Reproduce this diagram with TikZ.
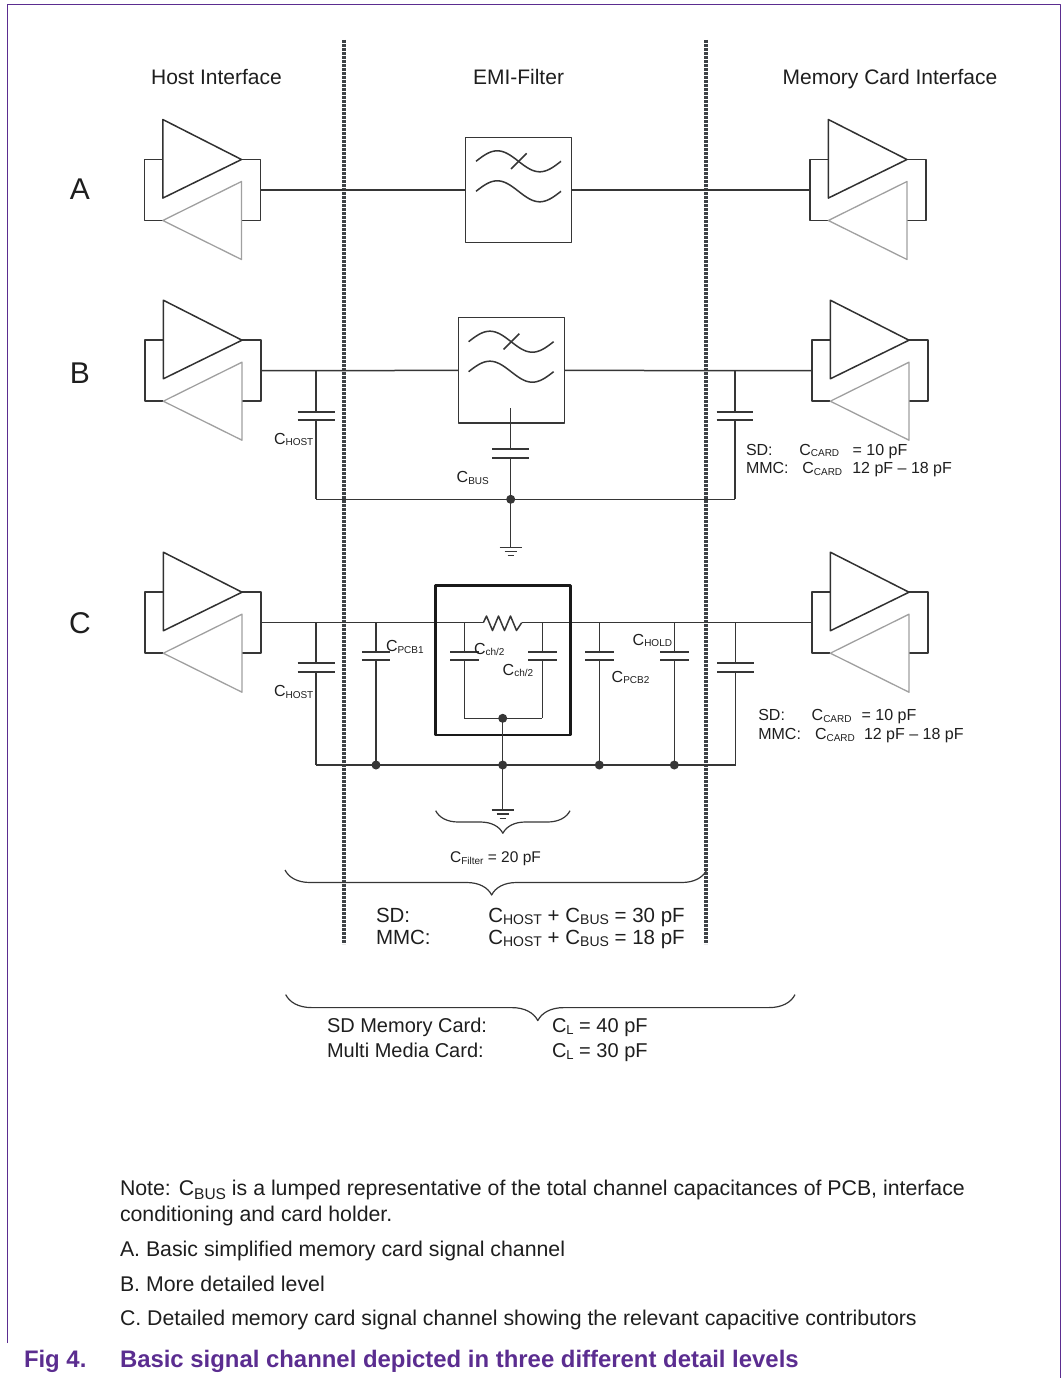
\documentclass[tikz,border=0pt]{standalone}
\usepackage{fontspec}
\setmainfont{Liberation Sans}
\usetikzlibrary{decorations.pathreplacing,calc}
\definecolor{wirec}{HTML}{363636}
\definecolor{ghostc}{HTML}{A0A0A0}
\definecolor{inkc}{HTML}{1E1E1E}
\definecolor{nxp}{RGB}{91,45,144}
\definecolor{dotc}{HTML}{3E4246}
\newcommand{\sbs}[3][1.5pt]{\raisebox{-#1}{\fontsize{#2}{#2}\selectfont #3}}
\begin{document}
\begin{tikzpicture}[x=1pt,y=-1pt,line join=round,
  every node/.style={inner sep=0pt,outer sep=0pt,text=inkc},
  wire/.style={draw=wirec,line width=1.5pt},
  fwdline/.style={draw=wirec!90!black,line width=1.5pt},
  ghostline/.style={draw=ghostc,line width=1.3pt},
  plate/.style={draw=wirec,line width=1.8pt},
  jdot/.style={circle,fill=wirec,minimum size=9pt,inner sep=0pt},
  sepline/.style={draw=dotc,line width=3.2pt,dash pattern=on 2.6pt off 1.4pt},
  brc/.style={decorate,decoration={brace,amplitude=#1,aspect=0.5},draw=wirec,line width=1.2pt},
  headtxt/.style={font=\fontsize{21}{25}\selectfont,anchor=base},
  rowtxt/.style={font=\fontsize{30}{34}\selectfont,anchor=base},
  lbl/.style={font=\fontsize{16}{19}\selectfont,anchor=base west},
  biglbl/.style={font=\fontsize{20.5}{24}\selectfont,anchor=base west},
  notetxt/.style={font=\fontsize{21.3}{25}\selectfont,anchor=base west},
  captxt/.style={font=\fontsize{23.9}{27}\selectfont\bfseries,anchor=base west,text=nxp},
  buffer/.pic={
    \draw[wire] (18.3,0) -- (0,0) -- (0,61) -- (18.3,61);
    \draw[wire] (97,0) -- (116,0) -- (116,61) -- (97,61);
    \draw[ghostline] (97,22) -- (97,100) -- (18.3,61) -- cycle;
    \draw[fwdline] (18.3,-40) -- (18.3,38.6) -- (97,0) -- cycle;
    \coordinate (-out) at (116,30.5);
    \coordinate (-in) at (0,30.5);
  },
  filterbox/.pic={
    \draw[wire] (0,0) rectangle (106,105.4);
    \draw[wire] plot[domain=0:360,samples=49,smooth] ({10.3+\x/360*85},{24-10.5*sin(\x)});
    \draw[wire] plot[domain=0:360,samples=49,smooth] ({10.3+\x/360*85},{54-10.5*sin(\x)});
    \draw[wire] (45.3,31.7) -- (61,16);
    \coordinate (-w) at (0,52.7);
    \coordinate (-e) at (106,52.7);
    \coordinate (-cb) at (52.4,90.6);
  }
]
\useasboundingbox (0,0) rectangle (1063,1378);

% frame
\draw[draw=nxp,line width=1.5pt] (7.3,1343) -- (7.3,4.3) -- (1060.3,4.3) -- (1060.3,1378);

% separators
\coordinate (s1t) at (344,40); \coordinate (s1b) at (344,944);
\coordinate (s2t) at (706,40); \coordinate (s2b) at (706,944);
\draw[sepline] (s1t) -- (s1b);
\draw[sepline] (s2t) -- (s2b);

% headers
\node[headtxt] (hdr1) at (216.5,85) {Host Interface};
\node[headtxt] (hdr2) at (518.5,85) {EMI-Filter};
\node[headtxt] (hdr3) at (890,85) {Memory Card Interface};

\node[rowtxt] (rA) at (80,199) {A};
\node[rowtxt] (rB) at (80,383) {B};
\node[rowtxt] (rC) at (80,633) {C};

% ---------------- Row A
\pic (hA) at (144.5,159.5) {buffer};
\pic (cA) at (810,159.5) {buffer};
\pic (fA) at (465.7,137.3) {filterbox};
\draw[wire] (hA-out) -- (fA-w);
\draw[wire] (fA-e) -- (cA-in);

% ---------------- Row B
\pic (hB) at (145,340.2) {buffer};
\pic (cB) at (812,340.2) {buffer};
\pic (fB) at (458.3,317.7) {filterbox};
\draw[wire] (hB-out) -- (fB-w);
\draw[wire] (fB-e) -- (cB-in);
\coordinate (bh) at (316,370.7);
\coordinate (bhb) at (316,499.3);
\coordinate (bc) at (735,370.7);
\coordinate (bcb) at (735,499.3);
\coordinate (bbus) at (510.7,499.3);
\coordinate (bgnd) at (510.7,547.3);
% C_HOST
\draw[wire] (bh) -- (316,411.7);
\draw[plate] (297.5,411.7) -- (334.5,411.7);
\draw[plate] (297.5,420.3) -- (334.5,420.3);
\draw[wire] (316,420.3) -- (bhb);
% C_BUS
\draw[wire] (fB-cb) -- (510.7,449);
\draw[plate] (492.2,449) -- (529.2,449);
\draw[plate] (492.2,457.7) -- (529.2,457.7);
\draw[wire] (510.7,457.7) -- (bbus) -- (bgnd);
\draw[wire] (499.7,547.3) -- (521.7,547.3);
\draw[wire] (504.7,551.5) -- (516.7,551.5);
\draw[wire] (507.7,555.5) -- (513.7,555.5);
% C_CARD
\draw[wire] (bc) -- (735,411.7);
\draw[plate] (716.7,411.7) -- (753.3,411.7);
\draw[plate] (716.7,420.3) -- (753.3,420.3);
\draw[wire] (735,420.3) -- (bcb);
\draw[wire] (bhb) -- (bcb);
\node[jdot] (dB) at (bbus) {};

\node[lbl] (lbh) at (274,444) {C\sbs{10}{HOST}};
\node[lbl] (lbb) at (456.7,482.5) {C\sbs{10}{BUS}};
\node[lbl] (lsdB) at (746,455) {SD:};
\node[lbl] (lccB1) at (799.3,455) {C\sbs{10}{CARD}};
\node[lbl] (lvB1) at (852.7,455) {= 10 pF};
\node[lbl] (lmmB) at (746,473.5) {MMC:};
\node[lbl] (lccB2) at (802.3,473.5) {C\sbs{10}{CARD}};
\node[lbl] (lvB2) at (852.3,473.5) {12 pF -- 18 pF};

% ---------------- Row C
\pic (hC) at (145,592.2) {buffer};
\pic (cC) at (812,592.2) {buffer};
\coordinate (r1) at (483.3,622.7);
\coordinate (r2) at (521.7,622.7);
\draw[wire] (hC-out) -- (r1);
\draw[wire] (r1) -- (486.5,616) -- (492.5,630.5) -- (498.5,616) -- (504.5,630.5) -- (510.5,616) -- (516.5,630.5) -- (r2);
\draw[wire] (r2) -- (cC-in);
\draw[draw=black!90,line width=2.6pt] (435.7,585.7) rectangle (570.7,735);

\coordinate (ch) at (316,622.7);   \coordinate (chb) at (316,765);
\coordinate (cp1) at (376,622.7);  \coordinate (cp1b) at (376,765);
\coordinate (cl) at (464.3,622.7); \coordinate (clb) at (464.3,718.3);
\coordinate (cr) at (542.3,622.7); \coordinate (crb) at (542.3,718.3);
\coordinate (cin) at (502.7,718.3);\coordinate (cmid) at (502.7,765);
\coordinate (cgnd) at (502.7,810);
\coordinate (cp2) at (599.3,622.7);\coordinate (cp2b) at (599.3,765);
\coordinate (cho) at (674.3,622.7);\coordinate (chob) at (674.3,765);
\coordinate (cca) at (735.7,622.7);\coordinate (ccab) at (735.7,765);

% C_HOST
\draw[wire] (ch) -- (316,663.3);
\draw[plate] (297.5,663.3) -- (334.5,663.3);
\draw[plate] (297.5,671.7) -- (334.5,671.7);
\draw[wire] (316,671.7) -- (chb);
% C_PCB1
\draw[wire] (cp1) -- (376,651.7);
\draw[plate] (361.8,651.7) -- (390.2,651.7);
\draw[plate] (361.8,660) -- (390.2,660);
\draw[wire] (376,660) -- (cp1b);
% C_ch/2 left
\draw[wire] (cl) -- (464.3,651.7);
\draw[plate] (450.1,651.7) -- (478.5,651.7);
\draw[plate] (450.1,660) -- (478.5,660);
\draw[wire] (464.3,660) -- (clb);
% C_ch/2 right
\draw[wire] (cr) -- (542.3,651.7);
\draw[plate] (528.1,651.7) -- (556.5,651.7);
\draw[plate] (528.1,660) -- (556.5,660);
\draw[wire] (542.3,660) -- (crb);
\draw[wire] (clb) -- (crb);
\draw[wire] (cin) -- (cmid) -- (cgnd);
\draw[wire] (491.7,810) -- (513.7,810);
\draw[wire] (496.7,814.2) -- (508.7,814.2);
\draw[wire] (499.7,818.3) -- (505.7,818.3);
% C_PCB2
\draw[wire] (cp2) -- (599.3,651.7);
\draw[plate] (585.1,651.7) -- (613.5,651.7);
\draw[plate] (585.1,660) -- (613.5,660);
\draw[wire] (599.3,660) -- (cp2b);
% C_HOLD
\draw[wire] (cho) -- (674.3,651.7);
\draw[plate] (660.1,651.7) -- (688.5,651.7);
\draw[plate] (660.1,660) -- (688.5,660);
\draw[wire] (674.3,660) -- (chob);
% C_CARD
\draw[wire] (cca) -- (735.7,663.3);
\draw[plate] (717.4,663.3) -- (754,663.3);
\draw[plate] (717.4,671.7) -- (754,671.7);
\draw[wire] (735.7,671.7) -- (ccab);
\draw[wire] (chb) -- (ccab);

\node[jdot] (d1) at (cin) {};
\node[jdot] (d2) at (cp1b) {};
\node[jdot] (d3) at (cmid) {};
\node[jdot] (d4) at (cp2b) {};
\node[jdot] (d5) at (chob) {};

\node[lbl] (lch) at (274,696.5) {C\sbs{10}{HOST}};
\node[lbl] (lp1) at (386,651.7) {C\sbs{10}{PCB1}};
\node[lbl] (lc1) at (474,654) {C\sbs{10}{ch/2}};
\node[lbl] (lc2) at (502.7,675) {C\sbs{10}{ch/2}};
\node[lbl] (lp2) at (611.7,682.4) {C\sbs{10}{PCB2}};
\node[lbl] (lho) at (632.7,645) {C\sbs{10}{HOLD}};
\node[lbl] (lsdC) at (758.3,720.7) {SD:};
\node[lbl] (lccC1) at (811.7,720.7) {C\sbs{10}{CARD}};
\node[lbl] (lvC1) at (861.7,720.7) {= 10 pF};
\node[lbl] (lmmC) at (758.3,739.7) {MMC:};
\node[lbl] (lccC2) at (815,739.7) {C\sbs{10}{CARD}};
\node[lbl] (lvC2) at (864,739.7) {12 pF -- 18 pF};

% ---------------- braces
\coordinate (b1r) at (570,810.7);  \coordinate (b1l) at (435.7,810.7);
\draw[brc=22.6] (b1r) -- (b1l);
\node[font=\fontsize{15.5}{18}\selectfont,anchor=base] (cfil) at (495.5,862.8) {C\sbs{10}{Filter} = 20 pF};

\coordinate (b2r) at (706.7,870); \coordinate (b2l) at (285,870);
\draw[brc=25,decoration={aspect=0.51}] (b2r) -- (b2l);
\node[biglbl] (sd2) at (376,922.3) {SD:};
\node[biglbl] (sdv) at (488.3,922.3) {C\sbs[2pt]{14}{HOST} + C\sbs[2pt]{14}{BUS} = 30 pF};
\node[biglbl] (mm2) at (376,944) {MMC:};
\node[biglbl] (mmv) at (488.3,944) {C\sbs[2pt]{14}{HOST} + C\sbs[2pt]{14}{BUS} = 18 pF};

\coordinate (b3r) at (795,994.6); \coordinate (b3l) at (285.7,994.6);
\draw[brc=26,decoration={aspect=0.505}] (b3r) -- (b3l);
\node[font=\fontsize{20}{24}\selectfont,anchor=base west] (sdm) at (327,1032.2) {SD Memory Card:};
\node[font=\fontsize{20}{24}\selectfont,anchor=base west] (sdl) at (552,1032.2) {C\sbs[2pt]{13}{L} = 40 pF};
\node[font=\fontsize{20}{24}\selectfont,anchor=base west] (mmm) at (327,1057.2) {Multi Media Card:};
\node[font=\fontsize{20}{24}\selectfont,anchor=base west] (mml) at (552,1057.2) {C\sbs[2pt]{13}{L} = 30 pF};

% ---------------- notes
\node[notetxt] (n1) at (120,1195.5) {Note: C\sbs[4pt]{15.5}{BUS} is a lumped representative of the total channel capacitances of PCB, interface};
\node[notetxt] (n2) at (120,1221.5) {conditioning and card holder.};
\node[notetxt] (n3) at (120,1256.5) {A. Basic simplified memory card signal channel};
\node[notetxt] (n4) at (120,1291.5) {B. More detailed level};
\node[notetxt] (n5) at (120,1325.5) {C. Detailed memory card signal channel showing the relevant capacitive contributors};
\node[captxt] (cap1) at (24,1367) {Fig 4.};
\node[captxt] (cap2) at (120,1367) {Basic signal channel depicted in three different detail levels};
\end{tikzpicture}
\end{document}
